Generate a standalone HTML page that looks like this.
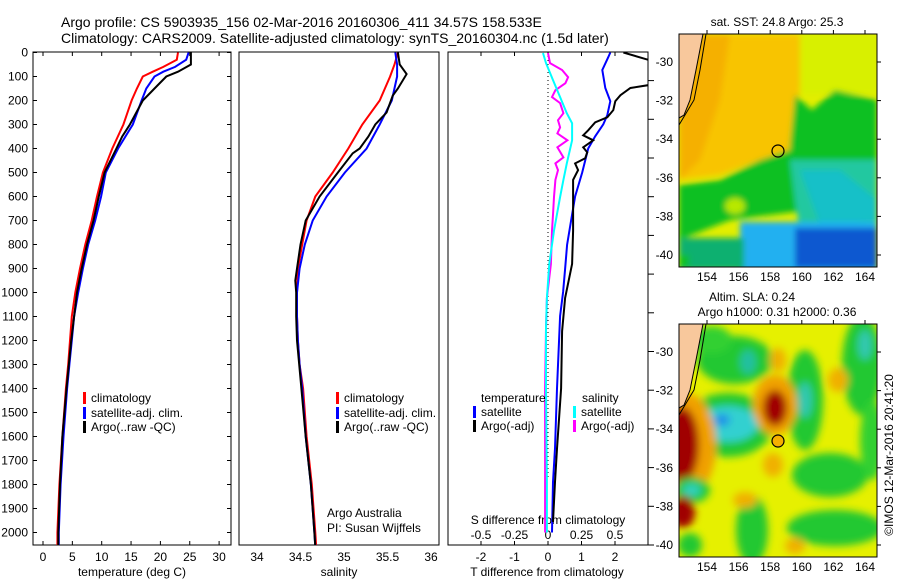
<!DOCTYPE html>
<html><head><meta charset="utf-8"><style>
body{margin:0;background:#fff;}
svg{display:block;font-family:"Liberation Sans",sans-serif;}
</style></head><body>
<svg id="c" width="900" height="580" viewBox="0 0 900 580">
<defs>
<clipPath id="cp1"><rect x="33" y="52" width="198" height="493"/></clipPath>
<clipPath id="cp2"><rect x="239" y="52" width="200" height="493"/></clipPath>
<clipPath id="cp3"><rect x="448" y="52" width="200" height="493"/></clipPath>
<clipPath id="cm1"><rect x="679" y="34" width="198" height="233"/></clipPath>
<clipPath id="cm2"><rect x="679" y="324" width="198" height="233"/></clipPath>
<filter id="bl" x="-50%" y="-50%" width="200%" height="200%"><feGaussianBlur stdDeviation="3"/></filter>
<filter id="bl2" x="-50%" y="-50%" width="200%" height="200%"><feGaussianBlur stdDeviation="4"/></filter>
</defs>
<text x="61" y="27" font-size="14">Argo profile: CS 5903935_156 02-Mar-2016 20160306_411 34.57S 158.533E</text>
<text x="61" y="43" font-size="14">Climatology: CARS2009. Satellite-adjusted climatology: synTS_20160304.nc (1.5d later)</text>

<!-- SST map -->
<g>
<text x="777" y="26" font-size="12" text-anchor="middle">sat. SST: 24.8 Argo: 25.3</text>
<g clip-path="url(#cm1)">
<rect x="679" y="34" width="198" height="233" fill="#e2ee00"/>
<g filter="url(#bl)">
<polygon points="679,34 800,34 800,90 790,150 760,160 720,175 679,180" fill="#f8c400"/>
<polygon points="679,34 730,34 720,100 700,160 679,180" fill="#f5b000"/>
<rect x="800" y="34" width="77" height="60" fill="#d8f000"/>
<polygon points="790,145 795,95 812,110 835,90 877,100 877,170 840,175 800,190 790,170" fill="#10c020"/>
<polygon points="679,185 720,180 760,160 790,150 800,160 810,210 770,215 730,220 679,240" fill="#10c020"/>
<polygon points="790,160 877,160 877,230 800,235 795,200" fill="#20c8a0"/>
<polygon points="800,170 840,170 877,200 877,220 820,225" fill="#18c0c8"/>
<ellipse cx="735" cy="206" rx="10" ry="8" fill="#b8e800"/>
<rect x="740" y="222" width="137" height="50" fill="#20b0f0"/>
<rect x="795" y="228" width="82" height="40" fill="#1058d0"/>
<rect x="679" y="238" width="65" height="32" fill="#10b070"/>
<rect x="679" y="255" width="10" height="12" fill="#10c020"/>
</g>
<polygon points="679,34 703,34 696,70 690,100 684,115 679,118" fill="#f8c89c" stroke="#000" stroke-width="1"/>
<polyline points="706,34 700,70 694,100 679,125" fill="none" stroke="#000" stroke-width="1"/>
<circle cx="778" cy="151" r="6" fill="none" stroke="#000" stroke-width="1.2"/>
</g>
<rect x="679" y="34" width="198" height="233" fill="none" stroke="#000" stroke-width="1"/>
<g id="m1ax"></g>
</g>

<!-- SLA map -->
<g>
<text x="752" y="301" font-size="12" text-anchor="middle">Altim. SLA: 0.24</text>
<text x="777" y="316" font-size="12" text-anchor="middle">Argo h1000: 0.31 h2000: 0.36</text>
<g clip-path="url(#cm2)">
<rect x="679" y="324" width="198" height="233" fill="#e6f000"/>
<g filter="url(#bl2)">
<ellipse cx="735" cy="360" rx="38" ry="24" fill="#20c830"/>
<ellipse cx="748" cy="362" rx="8" ry="12" fill="#20c0a0"/>
<ellipse cx="805" cy="400" rx="18" ry="50" fill="#20c830"/>
<ellipse cx="805" cy="400" rx="7" ry="18" fill="#30c8b0"/>
<ellipse cx="862" cy="365" rx="20" ry="50" fill="#20c830"/>
<ellipse cx="865" cy="345" rx="7" ry="15" fill="#30c8b0"/>
<ellipse cx="728" cy="425" rx="45" ry="32" fill="#20c830"/>
<ellipse cx="728" cy="424" rx="30" ry="18" fill="#30d0d0"/>
<ellipse cx="722" cy="420" rx="8" ry="6" fill="#2090e8"/>
<ellipse cx="686" cy="445" rx="30" ry="52" fill="#f0a000"/>
<ellipse cx="682" cy="445" rx="17" ry="38" fill="#a00000"/>
<ellipse cx="775" cy="405" rx="22" ry="30" fill="#f0a000"/>
<ellipse cx="775" cy="408" rx="12" ry="18" fill="#a00000"/>
<ellipse cx="692" cy="490" rx="18" ry="13" fill="#20c830"/>
<ellipse cx="692" cy="490" rx="9" ry="6" fill="#30d0c0"/>
<ellipse cx="683" cy="512" rx="12" ry="16" fill="#a00000"/>
<ellipse cx="830" cy="475" rx="38" ry="22" fill="#20c830"/>
<ellipse cx="752" cy="530" rx="16" ry="35" fill="#20c830"/>
<ellipse cx="835" cy="528" rx="48" ry="18" fill="#20c830"/>
<ellipse cx="690" cy="545" rx="12" ry="12" fill="#20c830"/>
<ellipse cx="872" cy="440" rx="12" ry="40" fill="#30d030"/>
<ellipse cx="712" cy="340" rx="20" ry="14" fill="#30d030"/>
<ellipse cx="773" cy="465" rx="10" ry="12" fill="#f0b000"/>
<ellipse cx="745" cy="500" rx="12" ry="8" fill="#f0b000"/>
<ellipse cx="795" cy="546" rx="10" ry="8" fill="#f0b000"/>
<ellipse cx="778" cy="360" rx="8" ry="12" fill="#f0b000"/>
<ellipse cx="838" cy="380" rx="10" ry="12" fill="#f0b000"/>
</g>
<polygon points="679,324 703,324 696,360 690,390 684,405 679,408" fill="#f8c89c" stroke="#000" stroke-width="1"/>
<polyline points="706,324 700,360 694,390 679,415" fill="none" stroke="#000" stroke-width="1"/>
<circle cx="778" cy="441" r="6" fill="#f5b000" stroke="#000" stroke-width="1.2"/>
</g>
<rect x="679" y="324" width="198" height="233" fill="none" stroke="#000" stroke-width="1"/>
<g id="m2ax"></g>
</g>
<text transform="translate(893,455) rotate(-90)" font-size="12" text-anchor="middle">©IMOS 12-Mar-2016 20:41:20</text>

<g id="plots"></g>
</svg>
<script>
// ---- data ----
const tDepth=[0,30,60,80,100,150,200,300,400,500,600,700,800,900,1000,1100,1200,1300,1400,1600,1800,2000,2060];
const tClim=[23.0,22.8,20.5,18.7,17.0,16.0,15.1,13.7,11.8,10.2,9.2,8.3,7.2,6.3,5.5,4.9,4.6,4.3,3.9,3.3,2.8,2.45,2.45];
const tSat=[24.8,24.4,22.5,20.5,19.0,17.6,16.8,15.3,12.8,10.7,9.9,8.9,7.7,6.8,6.0,5.3,4.9,4.5,4.1,3.5,3.0,2.7,2.7];
const argoDepth=[0,50,80,100,150,200,300,350,400,500,600,700,800,900,1000,1200,1400,1600,1800,2000,2060];
const tArgo=[25.2,25.2,23.0,21.0,19.0,17.0,14.8,13.5,12.5,10.5,9.5,8.6,7.5,6.6,5.8,4.8,4.0,3.3,2.9,2.6,2.6];
const sDepth=[0,50,100,200,300,400,500,600,700,800,900,1000,1100,1200,1300,1400,1600,1800,2000,2060];
const sClim=[35.62,35.58,35.53,35.41,35.21,35.05,34.87,34.67,34.57,34.52,34.47,34.46,34.46,34.47,34.49,34.53,34.57,34.63,34.67,34.68];
const sSat=[35.59,35.61,35.61,35.55,35.41,35.26,35.01,34.8,34.64,34.55,34.49,34.46,34.46,34.47,34.49,34.52,34.56,34.62,34.66,34.67];
const sArgoDepth=[0,50,90,150,180,250,300,350,400,420,500,600,700,800,900,950,1000,1100,1200,1400,1600,1800,2000,2060];
const sArgo=[35.62,35.64,35.72,35.62,35.56,35.49,35.36,35.28,35.18,35.1,34.93,34.72,34.56,34.5,34.46,34.44,34.45,34.45,34.46,34.51,34.56,34.62,34.66,34.67];
const dTSatDepth=[0,19,73,98,148,203,261,299,349,400,450,500,600,700,801,902,998,1098,1400,1650,1789,2000];
const dTSat=[1.86,1.8,1.62,1.65,1.71,1.86,1.77,1.65,1.41,1.2,1.11,1.02,0.81,0.69,0.57,0.51,0.45,0.36,0.27,0.21,0.15,0.12];
const dTArgoDepth=[0,31,60,110,136,148,178,203,240,270,291,324,345,366,395,416,441,462,490,531,602,742,881,1023,1161,1400,1651,1789,1956];
const dTArgo=[2.25,3.0,3.6,3.6,3.0,2.46,2.16,2.01,1.95,1.77,1.41,1.2,1.05,1.35,1.05,1.17,1.11,0.81,0.9,0.75,0.75,0.75,0.72,0.51,0.42,0.39,0.27,0.21,0.15];
const dSSatDepth=[2,44,115,186,253,295,366,462,531,602,742,881,1023,1148,1400,1789,2000];
const dSSat=[-0.0375,-0.015,0.0375,0.09,0.14,0.18,0.18,0.14,0.115,0.09,0.045,0.01,-0.008,-0.015,-0.015,-0.008,-0.008];
const dSArgoDepth=[2,44,73,103,128,157,186,211,253,282,312,337,366,395,437,462,490,531,602,669,742,881,1023,1148,1400,1789,2000];
const dSArgo=[0,0.015,0.105,0.15,0.13,0.055,0.03,0.09,0.115,0.075,0.09,0.07,0.145,0.07,0.115,0.055,0.075,0.055,0.045,0.038,0.03,0.022,-0.008,-0.015,-0.022,-0.022,-0.022];
const depthTicks=[0,100,200,300,400,500,600,700,800,900,1000,1100,1200,1300,1400,1500,1600,1700,1800,1900,2000];
const tempTicks=[0,5,10,15,20,25,30];
const salTicks=[34,34.5,35,35.5,36];
const dTTicks=[-2,-1,0,1,2];
const dSTicks=[-0.5,-0.25,0,0.25,0.5];
const lonTicks=[154,156,158,160,162,164];
const latTicks=[-30,-32,-34,-36,-38,-40];

// ---- scales ----
const yD=d=>52.5+0.24*d;
const xT=t=>43+5.87*t;
const xS=s=>257+87*(s-34);
const xDT=v=>548+33.5*v;
const xDS=v=>548+134*v;
const xLon=l=>707+15.8*(l-154);
const yLat=(l,o)=>o+62+19.3*(-30-l);

const NS='http://www.w3.org/2000/svg';
const root=document.getElementById('plots');
function mk(tag,attrs,parent){const e=document.createElementNS(NS,tag);for(const k in attrs)e.setAttribute(k,attrs[k]);(parent||root).appendChild(e);return e;}
function txt(x,y,s,anchor,size,parent){const e=mk('text',{x:x,y:y,'font-size':size||12,'text-anchor':anchor||'start'},parent);e.textContent=s;return e;}
function line(depths,vals,xf,color,clip,name){
  const pts=depths.map((d,i)=>xf(vals[i]).toFixed(1)+','+yD(d).toFixed(1)).join(' ');
  const e=mk('polyline',{points:pts,fill:'none',stroke:color,'stroke-width':2,'clip-path':'url(#'+clip+')'});
  
  
}
function panel(x,w,name){
  const r=mk('rect',{x:x,y:52,width:w,height:493,fill:'none',stroke:'#000','stroke-width':1});
  
  
}
panel(33,198,'temperature-panel');panel(239,200,'salinity-panel');panel(448,200,'difference-panel');

depthTicks.forEach(d=>{
  const t=txt(28,yD(d)+4,String(d),'end',12);
  
  
  mk('line',{x1:33,x2:37,y1:yD(d),y2:yD(d),stroke:'#000'});
  mk('line',{x1:227,x2:231,y1:yD(d),y2:yD(d),stroke:'#000'});
});
for(let y=545;y>=60;y-=38.7){mk('line',{x1:648,x2:654,y1:y,y2:y,stroke:'#000'});}

tempTicks.forEach(v=>{
  const t=txt(xT(v),561,String(v),'middle',12);
  
  
  mk('line',{x1:xT(v),x2:xT(v),y1:545,y2:541,stroke:'#000'});
  mk('line',{x1:xT(v),x2:xT(v),y1:52,y2:56,stroke:'#000'});
});
salTicks.forEach(v=>{
  const t=txt(xS(v),561,String(v),'middle',12);
  
  
});
dTTicks.forEach(v=>{
  const t=txt(xDT(v),561,String(v),'middle',12);
  
  
  mk('line',{x1:xDT(v),x2:xDT(v),y1:545,y2:541,stroke:'#000'});
  mk('line',{x1:xDT(v),x2:xDT(v),y1:52,y2:56,stroke:'#000'});
});
dSTicks.forEach(v=>{
  const t=txt(xDS(v),539,String(v),'middle',12);
  
  
});
[['temperature (deg C)',132,'temperature-axis-title'],['salinity',339,'salinity-axis-title'],['T difference from climatology',547,'tdiff-axis-title']].forEach(a=>{
  const t=txt(a[1],576,a[0],'middle',12);
  
  
});
const st=txt(548,524,'S difference from climatology','middle',12);



const zl=mk('line',{x1:548,x2:548,y1:52,y2:480,stroke:'#000','stroke-dasharray':'1,3'});



line(tDepth,tClim,xT,'#f00','cp1','temp-climatology-line');
line(tDepth,tSat,xT,'#00f','cp1','temp-satellite-line');
line(argoDepth,tArgo,xT,'#000','cp1','temp-argo-line');
line(sDepth,sClim,xS,'#f00','cp2','sal-climatology-line');
line(sDepth,sSat,xS,'#00f','cp2','sal-satellite-line');
line(sArgoDepth,sArgo,xS,'#000','cp2','sal-argo-line');
line(dSArgoDepth,dSArgo,xDS,'#f0f','cp3','sdiff-argo-line');
line(dSSatDepth,dSSat,xDS,'#0ff','cp3','sdiff-satellite-line');
line(dTSatDepth,dTSat,xDT,'#00f','cp3','tdiff-satellite-line');
line(dTArgoDepth,dTArgo,xDT,'#000','cp3','tdiff-argo-line');

function leg(x,y,color,label,name){
  mk('rect',{x:x,y:y-10,width:3,height:12,fill:color});
  const t=txt(x+8,y,label,'start',12);
  
  
}
[[83,'temp'],[336,'sal']].forEach(p=>{
  leg(p[0],402,'#f00','climatology',p[1]+'-legend-climatology');
  leg(p[0],417,'#00f','satellite-adj. clim.',p[1]+'-legend-satellite');
  leg(p[0],431,'#000','Argo(..raw -QC)',p[1]+'-legend-argo');
});
const lt=txt(481,402,'temperature','start',12);


const ls=txt(582,402,'salinity','start',12);


leg(473,416,'#00f','satellite','diff-legend-tsat');
leg(473,430,'#000','Argo(-adj)','diff-legend-targo');
leg(573,416,'#0ff','satellite','diff-legend-ssat');
leg(573,430,'#f0f','Argo(-adj)','diff-legend-sargo');
const a1=txt(327,517,'Argo Australia','start',12);


const a2=txt(327,532,'PI: Susan Wijffels','start',12);



[[document.getElementById('m1ax'),0,281],[document.getElementById('m2ax'),290,571]].forEach(m=>{
  const g=m[0],o=m[1];
  lonTicks.forEach(l=>{
    const t=txt(xLon(l),m[2],String(l),'middle',12,g);
    
    
    mk('line',{x1:xLon(l),x2:xLon(l),y1:34+o,y2:30+o,stroke:'#000'},g);
  });
  latTicks.forEach(l=>{
    const t=txt(673,yLat(l,o)+4,String(l),'end',12,g);
    
    
    mk('line',{x1:877,x2:881,y1:yLat(l,o),y2:yLat(l,o),stroke:'#000'},g);
  });
});
</script>
</body></html>
